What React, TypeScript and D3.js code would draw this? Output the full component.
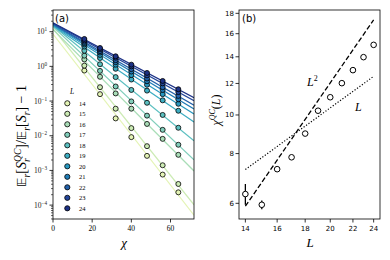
import React from 'react';
import * as d3 from 'd3';

// panel (a): ratio vs bond dimension, one row per system size L
const sizes = [14, 15, 16, 17, 18, 19, 20, 21, 22, 23, 24];
const chis = [16, 24, 32, 40, 48, 56, 64];
const ratios = [
  [0.759, 0.158, 0.0316, 0.00912, 0.00263, 0.000759, 0.000234],
  [1.05, 0.251, 0.0603, 0.0166, 0.00501, 0.00141, 0.000407],
  [1.58, 0.501, 0.166, 0.0603, 0.0219, 0.00813, 0.00282],
  [2.04, 0.741, 0.263, 0.0977, 0.038, 0.0148, 0.0055],
  [2.82, 1.15, 0.49, 0.209, 0.0891, 0.0398, 0.017],
  [3.72, 1.74, 0.851, 0.417, 0.2, 0.105, 0.0525],
  [4.27, 2.14, 1.12, 0.562, 0.295, 0.158, 0.0832],
  [4.68, 2.51, 1.32, 0.708, 0.372, 0.209, 0.112],
  [5.13, 2.75, 1.51, 0.832, 0.447, 0.251, 0.141],
  [5.62, 3.09, 1.78, 1.0, 0.55, 0.324, 0.182],
  [6.17, 3.39, 1.95, 1.12, 0.646, 0.38, 0.219],
];
const yTicksA = [1e1, 1e0, 1e-1, 1e-2, 1e-3, 1e-4];
const yTickExpA = ['1', '0', '\u22121', '\u22122', '\u22123', '\u22124'];
const xTicksA = [0, 20, 40, 60];

// panel (b): crossover bond dimension vs L
const chiQC = [6.33, 5.95, 7.31, 7.83, 8.98, 10.25, 11.08, 12.02, 12.96, 13.97, 15.0];
const chiQCErr = [0.38, 0.15, 0.05, 0.05, 0.05, 0.06, 0.05, 0.05, 0.05, 0.05, 0.05];
const quadCoef = 0.0301;
const linCoef = 0.521;
const xTicksB = [14, 16, 18, 20, 22, 24];
const yTicksB = [6, 8, 10, 12, 14, 16, 18];

const W = 390, H = 260;
const A = { l: 53, r: 194, t: 10, b: 219 };
const B = { l: 239, r: 380, t: 10, b: 219 };
const serif = "'Liberation Serif', 'DejaVu Serif', serif";
const sans = "'DejaVu Sans', sans-serif";

const color = (i: number) => d3.interpolateYlGnBu(0.15 + i * 0.075);

function fit(ys: number[]) {
  const ly = ys.map(v => Math.log10(v));
  const mx = d3.mean(chis)!, my = d3.mean(ly)!;
  const sxy = d3.sum(chis, (c, i) => (c - mx) * (ly[i] - my));
  const sxx = d3.sum(chis, c => (c - mx) ** 2);
  const slope = sxy / sxx;
  return { slope, icpt: my - slope * mx };
}

export default function App() {
  const xA = d3.scaleLinear().domain([0, 72]).range([A.l, A.r]);
  const yA = d3.scaleLog().domain([10 ** -4.4, 10 ** 1.625]).range([A.b, A.t]);
  const xB = d3.scaleLog().domain([13.63, 24.65]).range([B.l, B.r]);
  const yB = d3.scaleLog().domain([5.48, 18.35]).range([B.b, B.t]);

  const fitLine = d3.line<number[]>().x(d => xA(d[0])).y(d => yA(d[1]));

  const minorA: number[] = [];
  for (let e = -5; e <= 1; e++) for (let k = 2; k <= 9; k++) {
    const v = k * 10 ** e;
    if (v > yA.domain()[0] && v < yA.domain()[1]) minorA.push(v);
  }

  const quad = d3.line<number>().x(L => xB(L)).y(L => yB(quadCoef * L * L));
  const lin = d3.line<number>().x(L => xB(L)).y(L => yB(linCoef * L));

  return (
    <svg width={W} height={H} style={{ position: 'absolute', left: 0, top: 0, background: '#fff' }}>
      <defs>
        <clipPath id="clipA"><rect x={A.l} y={A.t} width={A.r - A.l} height={A.b - A.t} /></clipPath>
      </defs>

      {/* panel (a) */}
      <g clipPath="url(#clipA)">
        {sizes.map((L, i) => {
          const f = fit(ratios[i]);
          const pts = [0, 72].map(c => [c, 10 ** (f.icpt + f.slope * c)]);
          return <path key={L} d={fitLine(pts)!} fill="none" stroke={color(i)} strokeWidth={1.2} />;
        })}
        {sizes.map((L, i) => (
          <g key={L}>
            {chis.map((c, j) => (
              <circle key={c} cx={xA(c)} cy={yA(ratios[i][j])} r={2.5} fill={color(i)} stroke="#000" strokeWidth={0.8} />
            ))}
          </g>
        ))}
      </g>
      <rect x={A.l} y={A.t} width={A.r - A.l} height={A.b - A.t} fill="none" stroke="#000" strokeWidth={0.8} />
      {yTicksA.map((v, i) => (
        <g key={v}>
          <line x1={A.l - 3.5} x2={A.l} y1={yA(v)} y2={yA(v)} stroke="#000" strokeWidth={0.8} />
          <text x={A.l - 6} y={yA(v) + 2.5} fontSize={7.5} fontFamily={serif} textAnchor="end" fill="#222">
            10<tspan dy={-3} fontSize={5.2}>{yTickExpA[i]}</tspan>
          </text>
        </g>
      ))}
      {minorA.map(v => (
        <line key={v} x1={A.l - 2} x2={A.l} y1={yA(v)} y2={yA(v)} stroke="#000" strokeWidth={0.6} />
      ))}
      {xTicksA.map(v => (
        <g key={v}>
          <line x1={xA(v)} x2={xA(v)} y1={A.b} y2={A.b + 3.5} stroke="#000" strokeWidth={0.8} />
          <text x={xA(v)} y={A.b + 12} fontSize={7.5} fontFamily={serif} textAnchor="middle">{v}</text>
        </g>
      ))}
      <text x={55} y={22} fontSize={10} fontFamily={sans}>(a)</text>
      <text x={124} y={247} fontSize={13} fontFamily={serif} fontStyle="italic" textAnchor="middle">χ</text>
      <text transform="translate(26,136) rotate(-90)" fontSize={14} fontFamily={serif} textAnchor="middle">
        <tspan fontFamily={sans} fontSize={13}>𝔼</tspan><tspan dy={3.5} fontSize={9.5} fontStyle="italic">r</tspan>
        <tspan dy={-3.5}>[</tspan><tspan fontStyle="italic">S</tspan>
        <tspan dy={3.5} fontSize={9.5} fontStyle="italic">r</tspan>
        <tspan dy={-9} dx={-3.5} fontSize={9.5} fontStyle="italic">QC</tspan>
        <tspan dy={5.5}>]/</tspan><tspan fontFamily={sans} fontSize={13}>𝔼</tspan>
        <tspan dy={3.5} fontSize={9.5} fontStyle="italic">r</tspan><tspan dy={-3.5}>[</tspan>
        <tspan fontStyle="italic">S</tspan><tspan dy={3.5} fontSize={9.5} fontStyle="italic">r</tspan>
        <tspan dy={-3.5}>] − 1</tspan>
      </text>

      {/* legend */}
      <text x={70} y={94} fontSize={7.5} fontFamily={serif} fontStyle="italic">L</text>
      {sizes.map((L, i) => (
        <g key={L}>
          <circle cx={67.3} cy={103.3 + i * 10.5} r={2.6} fill={color(i)} stroke="#000" strokeWidth={0.8} />
          <text x={79} y={105.8 + i * 10.5} fontSize={6.5} fontFamily={serif}>{L}</text>
        </g>
      ))}

      {/* panel (b) */}
      <path d={quad(sizes)!} fill="none" stroke="#000" strokeWidth={1.3} strokeDasharray="5,2.4" />
      <path d={lin(sizes)!} fill="none" stroke="#000" strokeWidth={1.2} strokeDasharray="1.2,1.8" />
      {sizes.map((L, i) => (
        <g key={L}>
          <line x1={xB(L)} x2={xB(L)} y1={yB(chiQC[i] - chiQCErr[i])} y2={yB(chiQC[i] + chiQCErr[i])} stroke="#000" strokeWidth={1.3} />
          <circle cx={xB(L)} cy={yB(chiQC[i])} r={2.8} fill="#fff" stroke="#000" strokeWidth={1} />
        </g>
      ))}
      <rect x={B.l} y={B.t} width={B.r - B.l} height={B.b - B.t} fill="none" stroke="#000" strokeWidth={0.8} />
      {yTicksB.map(v => (
        <g key={v}>
          <line x1={B.l - 3.5} x2={B.l} y1={yB(v)} y2={yB(v)} stroke="#000" strokeWidth={0.8} />
          <text x={B.l - 5} y={yB(v) + 2.5} fontSize={7} fontFamily={sans} textAnchor="end">{v}</text>
        </g>
      ))}
      {xTicksB.map(v => (
        <g key={v}>
          <line x1={xB(v)} x2={xB(v)} y1={B.b} y2={B.b + 3.5} stroke="#000" strokeWidth={0.8} />
          <text x={xB(v)} y={B.b + 12} fontSize={7} fontFamily={sans} textAnchor="middle">{v}</text>
        </g>
      ))}
      <text x={242} y={22} fontSize={10} fontFamily={sans}>(b)</text>
      <text x={307} y={86} fontSize={12} fontFamily={serif} fontStyle="italic">L<tspan dy={-5} fontSize={8} fontStyle="normal">2</tspan></text>
      <text x={355} y={111} fontSize={12} fontFamily={serif} fontStyle="italic">L</text>
      <text x={310} y={247} fontSize={13} fontFamily={serif} fontStyle="italic" textAnchor="middle">L</text>
      <text transform="translate(220,110) rotate(-90)" fontSize={12} fontFamily={serif} textAnchor="middle">
        <tspan fontStyle="italic">χ</tspan><tspan dy={-5} fontSize={8} fontStyle="italic">QC</tspan>
        <tspan dy={5}>(</tspan><tspan fontStyle="italic">L</tspan>)
      </text>
    </svg>
  );
}
